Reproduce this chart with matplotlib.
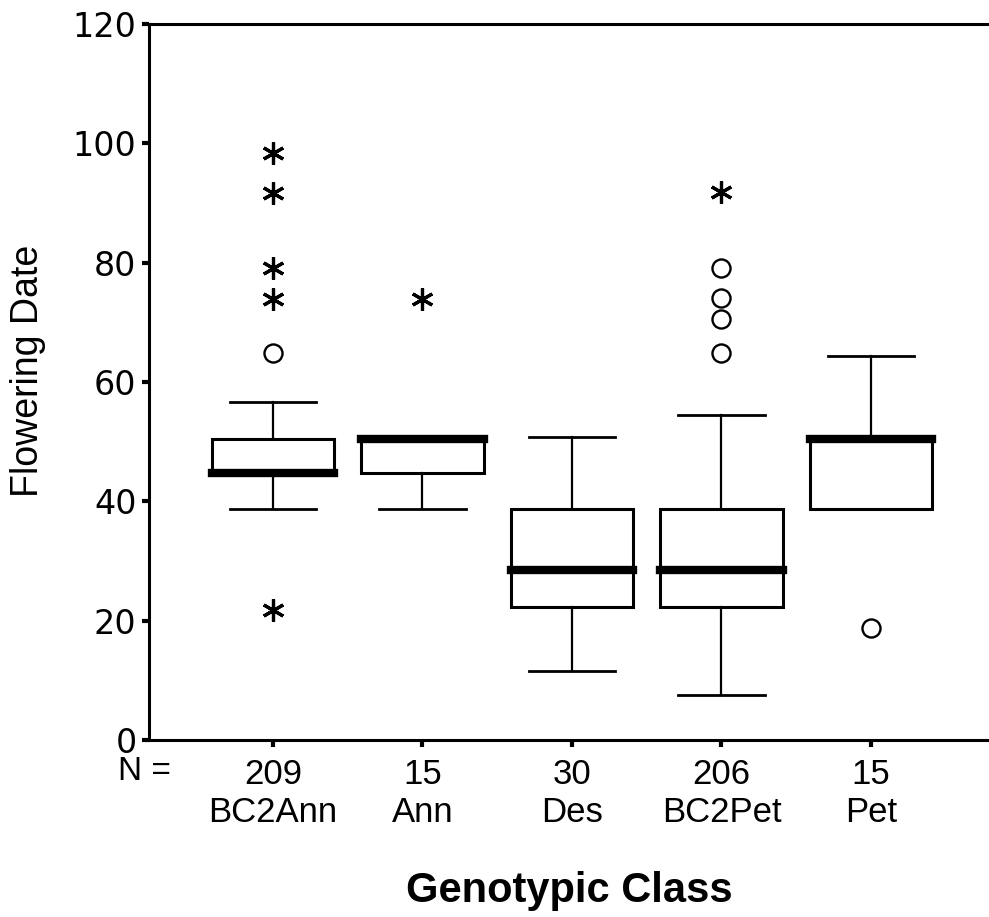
import matplotlib
matplotlib.use("Agg")
import matplotlib.pyplot as plt

categories = ["BC2Ann", "Ann", "Des", "BC2Pet", "Pet"]
n_counts = [209, 15, 30, 206, 15]
whislo = [38.7, 38.7, 11.5, 7.5, 38.7]
q1 = [44.8, 44.8, 22.3, 22.3, 38.7]
med = [44.8, 50.5, 28.5, 28.5, 50.5]
q3 = [50.5, 50.5, 38.7, 38.7, 50.5]
whishi = [56.6, 50.5, 50.8, 54.5, 64.3]
outlier_cat = [0, 3, 3, 3, 3, 4]
outlier_val = [64.9, 79.1, 74.1, 70.6, 64.9, 18.8]
extreme_cat = [0, 0, 0, 0, 0, 1, 3]
extreme_val = [98.4, 91.7, 79.1, 73.9, 21.8, 73.9, 91.8]

yticks = [0, 20, 40, 60, 80, 100, 120]

fig = plt.figure(figsize=(9.89, 9.17), dpi=100)
ax = fig.add_axes([149/989, 1 - 740/917, 1 - 149/989, (740 - 24)/917])

positions = list(range(1, len(categories) + 1))
stats = []
for i in range(len(categories)):
    stats.append(dict(whislo=whislo[i], q1=q1[i], med=med[i], q3=q3[i],
                      whishi=whishi[i], fliers=[], label=categories[i]))

ax.bxp(stats, positions=positions, widths=0.82, patch_artist=True, showfliers=False,
       boxprops=dict(facecolor="white", edgecolor="black", linewidth=2.2),
       whiskerprops=dict(color="black", linewidth=1.6),
       capprops=dict(color="black", linewidth=2.0),
       medianprops=dict(color="black", linewidth=6, solid_capstyle="projecting"),
       capwidths=0.58)

ax.plot([positions[c] for c in outlier_cat], outlier_val, linestyle="none",
        marker="o", markersize=13, markerfacecolor="none", markeredgecolor="black",
        markeredgewidth=1.7, zorder=5)
ax.plot([positions[c] for c in extreme_cat], extreme_val, linestyle="none",
        marker=(6, 2, 0), markersize=16, markeredgecolor="black",
        markeredgewidth=2.3, zorder=5)

ax.set_xlim(1 - (273 - 149) / 149.5, 1 + (989 - 273) / 149.5)
ax.set_ylim(0, 120)
ax.set_yticks(yticks)
ax.set_yticklabels([str(t) for t in yticks], fontsize=24, family="DejaVu Sans")
ax.set_xticks(positions)
ax.set_xticklabels([f"{n}\n{c}" for n, c in zip(n_counts, categories)],
                   fontsize=25, family="Liberation Sans", linespacing=1.2)
ax.tick_params(axis="both", direction="out", length=5, width=3, pad=4, color="black")
ax.tick_params(axis="x", pad=8)

for s in ["left", "bottom", "top"]:
    ax.spines[s].set_linewidth(2.2)
ax.spines["right"].set_visible(False)

fig.text(144/989, 1 - 772/917, "N =", ha="center", va="center", fontsize=24,
         family="Liberation Sans")
ax.set_ylabel("Flowering Date", fontsize=27, family="Liberation Sans")
ax.yaxis.set_label_coords(-(149 - 46) / (989 - 149), 0.515)
ax.set_xlabel("Genotypic Class", fontsize=30, family="Liberation Sans",
              fontweight="bold", labelpad=30)

fig.savefig("out.png", dpi=100)
